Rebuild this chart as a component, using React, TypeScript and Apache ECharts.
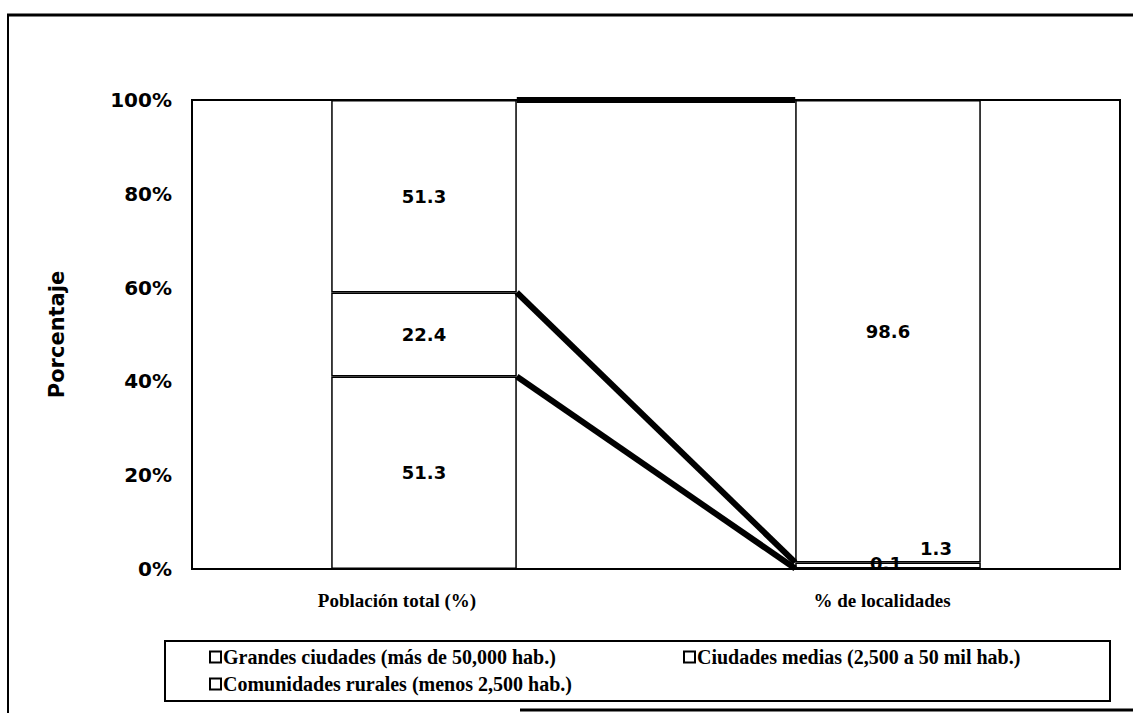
import React, { useEffect, useRef } from "react";
import * as echarts from "echarts";

const categories = ["Población total (%)", "% de localidades"];
const seriesNames = [
  "Grandes ciudades (más de 50,000 hab.)",
  "Ciudades medias (2,500 a 50 mil hab.)",
  "Comunidades rurales (menos 2,500 hab.)",
];
const grandes = [51.3, 0.1];
const medias = [22.4, 1.3];
const rurales = [51.3, 98.6];
const yTicks = [0, 20, 40, 60, 80, 100];

const SANS = "DejaVu Sans";
const SERIF = "Liberation Serif";

export default function App() {
  const ref = useRef<HTMLDivElement>(null);
  useEffect(() => {
    if (!ref.current) return;
    const chart = echarts.init(ref.current, undefined, { renderer: "svg" });
    const raw = [grandes, medias, rurales];
    const totals = categories.map((_, i) => raw.reduce((s, a) => s + a[i], 0));
    const pct = raw.map((arr) => arr.map((v, i) => (v / totals[i]) * 100));
    const cum: number[][] = [];
    let acc = categories.map(() => 0);
    pct.forEach((arr) => {
      acc = acc.map((a, i) => a + arr[i]);
      cum.push(acc.slice());
    });
    const lineData = cum.map((c) => [0, c[0], c[1]]);

    const labelOffsets: Record<string, number[]> = {
      "0-1": [-2, -5],
      "1-1": [48, -17],
    };

    const barSeries = seriesNames.map((name, s) => ({
      name,
      type: "bar",
      stack: "total",
      barWidth: "40%",
      itemStyle: { color: "#ffffff", borderColor: "#000000", borderWidth: 1.5 },
      label: {
        show: true,
        position: "inside",
        color: "#000",
        fontFamily: SANS,
        fontWeight: "bold",
        fontSize: 18,
        formatter: (p: any) => raw[s][p.dataIndex].toFixed(1),
      },
      data: pct[s].map((v, i) => {
        const off = labelOffsets[`${s}-${i}`];
        return off ? { value: v, label: { offset: off } } : v;
      }),
      z: 2,
    }));

    const legendCommon = {
      orient: "horizontal",
      padding: 0,
      icon: "rect",
      itemWidth: 11,
      itemHeight: 11,
      itemStyle: { color: "#fff", borderColor: "#000", borderWidth: 2 },
      textStyle: { fontFamily: SERIF, fontWeight: "bold", fontSize: 20, color: "#000", padding: [0, 0, 0, -3] },
      selectedMode: false,
    };

    chart.setOption({
      animation: false,
      backgroundColor: "#ffffff",
      grid: {
        left: 192,
        right: 13,
        top: 100,
        bottom: 144,
        show: true,
        borderColor: "#000",
        borderWidth: 2,
        backgroundColor: "transparent",
      },
      xAxis: {
        type: "category",
        data: [
          { value: categories[0], textStyle: { padding: [0, 54, 0, 0] } },
          { value: categories[1], textStyle: { padding: [0, 12, 0, 0] } },
        ],
        axisLine: { show: false },
        axisTick: { show: false },
        axisLabel: {
          margin: 22,
          fontFamily: SERIF,
          fontWeight: "bold",
          fontSize: 19,
          color: "#000",
        },
      },
      yAxis: {
        type: "value",
        min: yTicks[0],
        max: yTicks[yTicks.length - 1],
        interval: yTicks[1] - yTicks[0],
        name: "Porcentaje",
        nameLocation: "middle",
        nameGap: 125,
        nameTextStyle: { fontFamily: SANS, fontWeight: "bold", fontSize: 21, color: "#000" },
        axisLine: { show: false },
        axisTick: { show: false },
        splitLine: { show: false },
        axisLabel: {
          margin: 20,
          formatter: "{value}%",
          fontFamily: SANS,
          fontWeight: "bold",
          fontSize: 20,
          color: "#000",
        },
      },
      legend: [
        { ...legendCommon, data: [seriesNames[0]], left: 209, top: 647 },
        { ...legendCommon, data: [seriesNames[1]], left: 683, top: 647 },
        { ...legendCommon, data: [seriesNames[2]], left: 209, top: 674 },
      ],
      graphic: [
        { type: "line", shape: { x1: 7, y1: 15, x2: 1133, y2: 15 }, style: { stroke: "#000", lineWidth: 3 } },
        { type: "line", shape: { x1: 8, y1: 14, x2: 8, y2: 713 }, style: { stroke: "#000", lineWidth: 2 } },
        { type: "line", shape: { x1: 520, y1: 710, x2: 1133, y2: 710 }, style: { stroke: "#000", lineWidth: 3 } },
        {
          type: "rect",
          shape: { x: 165, y: 641, width: 945, height: 60 },
          style: { fill: "none", stroke: "#000", lineWidth: 2 },
          z: 0,
        },
      ],
      series: [
        ...barSeries,
        {
          type: "custom",
          renderItem: (params: any, api: any) => {
            const p1 = api.coord([0, api.value(1)]);
            const p2 = api.coord([1, api.value(2)]);
            const half = api.size([1, 0])[0] * 0.2;
            return {
              type: "line",
              shape: { x1: p1[0] + half, y1: p1[1], x2: p2[0] - half, y2: p2[1] },
              style: { stroke: "#000", lineWidth: 6 },
            };
          },
          encode: { x: 0, y: 1 },
          data: lineData,
          z: 5,
          silent: true,
        },
      ],
    });
    return () => chart.dispose();
  }, []);
  return (
    <div
      ref={ref}
      style={{ position: "absolute", left: 0, top: 0, width: 1133, height: 713 }}
    />
  );
}
